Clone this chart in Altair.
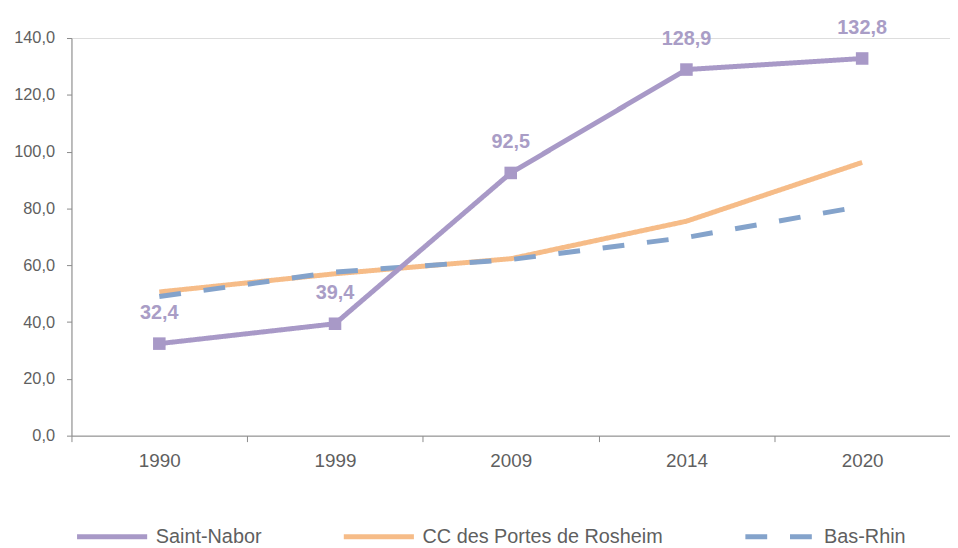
import altair as alt
import pandas as pd

years = ["1990", "1999", "2009", "2014", "2020"]
series_names = ["Saint-Nabor", "CC des Portes de Rosheim", "Bas-Rhin"]
saint_nabor = [32.4, 39.4, 92.5, 128.9, 132.8]
cc_rosheim = [50.6, 57.0, 62.3, 75.5, 96.2]
bas_rhin = [49.0, 57.6, 62.0, 69.8, 80.8]

colors = ["#A899C7", "#F6BC88", "#84A3CB"]
dashes = [[1, 0], [1, 0], [22, 23]]

rows = []
for name, vals in zip(series_names, [saint_nabor, cc_rosheim, bas_rhin]):
    for y, v in zip(years, vals):
        rows.append({"year": y, "series": name, "value": v})
df = pd.DataFrame(rows)

font = "Liberation Sans"
grey = "#5f5f5f"

x_enc = alt.X("year:N", sort=years, title=None,
              scale=alt.Scale(paddingInner=0, paddingOuter=0),
              axis=alt.Axis(labelAngle=0, labelFont=font, labelFontSize=19,
                            labelColor=grey, domainColor="#8a8a8a",
                            tickColor="#8a8a8a", tickSize=6, tickBand="extent",
                            labelPadding=10, grid=False))
y_enc = alt.Y("value:Q", title=None,
              scale=alt.Scale(domain=[0, 140], nice=False),
              axis=alt.Axis(values=[0, 20, 40, 60, 80, 100, 120, 140],
                            labelExpr="replace(format(datum.value, '.1f'), '.', ',')",
                            labelFont=font, labelFontSize=16.5, labelColor=grey,
                            domainColor="#8a8a8a", tickColor="#8a8a8a", tickSize=5,
                            labelPadding=12, grid=False))

color_enc = alt.Color("series:N", title=None,
                      scale=alt.Scale(domain=series_names, range=colors),
                      legend=alt.Legend(orient="none", direction="horizontal",
                                        legendX=3, legendY=465,
                                        symbolType="stroke", symbolSize=5000,
                                        symbolStrokeWidth=5, labelFont=font,
                                        labelFontSize=20, labelColor=grey,
                                        labelLimit=0, columnPadding=72,
                                        labelOffset=6))
dash_enc = alt.StrokeDash("series:N", title=None,
                          scale=alt.Scale(domain=series_names, range=dashes),
                          legend=None)

base = alt.Chart(df).encode(x=x_enc, y=y_enc)

others = base.transform_filter(alt.datum.series != "Saint-Nabor").mark_line(
    strokeWidth=5, strokeCap="butt"
).encode(color=color_enc, strokeDash=dash_enc)

sn = base.transform_filter(alt.datum.series == "Saint-Nabor")
sn_line = sn.mark_line(strokeWidth=5).encode(color=color_enc, strokeDash=dash_enc)
sn_pts = sn.mark_point(shape="square", filled=True, size=160, opacity=1).encode(
    color=alt.Color("series:N", scale=alt.Scale(domain=series_names, range=colors), legend=None))
sn_lbl = sn.transform_calculate(
    lbl="replace(format(datum.value, '.1f'), '.', ',')"
).mark_text(font=font, fontSize=20, fontWeight="bold", color="#A99DC6",
            dy=-31, baseline="middle").encode(text="lbl:N")

chart = alt.layer(others, sn_line, sn_pts, sn_lbl).properties(
    width=886, height=401,
    autosize=alt.AutoSizeParams(type="none"),
    padding={"left": 64, "top": 28, "right": 0, "bottom": 110},
).configure_view(stroke=None).configure(background="white")

chart.save("out.html", embed_options={"renderer": "svg", "actions": False})
